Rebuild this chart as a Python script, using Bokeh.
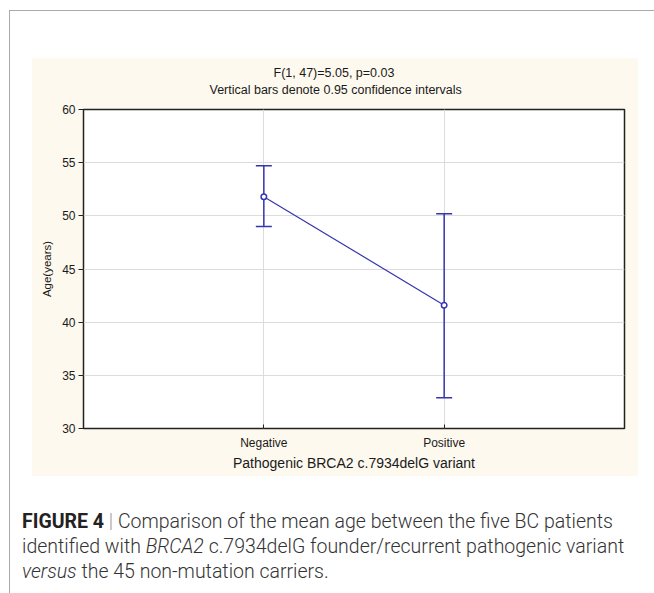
from bokeh.plotting import figure
from bokeh.models import (ColumnDataSource, Range1d, FixedTicker, Whisker, TeeHead,
                          Title, Div, Spacer)
from bokeh.layouts import column, row
from bokeh.embed import file_html
from bokeh.resources import INLINE

# ---- data ----
categories = ["Negative", "Positive"]
mean_age = [51.8, 41.6]
ci_lower = [49.0, 32.9]
ci_upper = [54.7, 50.2]
y_ticks = [30, 35, 40, 45, 50, 55, 60]
title_line1 = "F(1, 47)=5.05, p=0.03"
title_line2 = "Vertical bars denote 0.95 confidence intervals"
x_title = "Pathogenic BRCA2 c.7934delG variant"
y_title = "Age(years)"

positions = list(range(1, len(categories) + 1))
BLUE = "#3535B0"
BEIGE = "#FDF9EE"
TXT = "#1a1a1a"
FONT = "Liberation Sans"

src = ColumnDataSource(dict(x=positions, mean=mean_age, lower=ci_lower, upper=ci_upper))

p = figure(width=607, height=419, output_backend="svg", toolbar_location=None,
           x_range=Range1d(0, len(categories) + 1), y_range=Range1d(y_ticks[0], y_ticks[-1]),
           min_border_left=52, min_border_right=14, min_border_top=52, min_border_bottom=48)
p.background_fill_color = "white"
p.border_fill_color = BEIGE
p.outline_line_color = "#222222"
p.outline_line_width = 1.5

# titles: centred on the whole panel (left-aligned with offsets from the frame edge)
p.title = Title(text=title_line1, align="left", offset=190, standoff=-24,
                text_font=FONT, text_font_size="12.5px", text_font_style="normal",
                text_color=TXT)
p.add_layout(Title(text=title_line2, align="left", offset=126, standoff=26,
                   text_font=FONT, text_font_size="12.5px", text_font_style="normal",
                   text_color=TXT), "above")

# axes
p.xaxis.ticker = FixedTicker(ticks=positions)
p.xaxis.major_label_overrides = {pos: c for pos, c in zip(positions, categories)}
p.xaxis.major_tick_in = 4
p.xaxis.major_tick_out = 0
p.xaxis.minor_tick_line_color = None
p.xaxis.axis_line_color = None
p.xaxis.major_label_standoff = 7
p.xaxis.major_label_text_font = FONT
p.xaxis.major_label_text_font_size = "12px"
p.xaxis.major_label_text_color = TXT
p.xaxis.major_tick_line_color = "#222222"
p.xaxis.axis_label = x_title
p.xaxis.axis_label_text_font = FONT
p.xaxis.axis_label_text_font_size = "14px"
p.xaxis.axis_label_text_font_style = "normal"
p.xaxis.axis_label_text_color = TXT
p.xaxis.axis_label_standoff = 2

p.yaxis.ticker = FixedTicker(ticks=y_ticks)
p.yaxis.major_tick_in = 0
p.yaxis.major_tick_out = 5
p.yaxis.minor_tick_line_color = None
p.yaxis.axis_line_color = None
p.yaxis.major_label_standoff = 3
p.yaxis.major_label_text_font = FONT
p.yaxis.major_label_text_font_size = "12px"
p.yaxis.major_label_text_color = TXT
p.yaxis.major_tick_line_color = "#222222"
p.yaxis.axis_label = y_title
p.yaxis.axis_label_text_font = FONT
p.yaxis.axis_label_text_font_size = "11.5px"
p.yaxis.axis_label_text_font_style = "normal"
p.yaxis.axis_label_text_color = TXT
p.yaxis.axis_label_standoff = 6

# grids
p.xgrid.ticker = FixedTicker(ticks=positions)
p.xgrid.grid_line_color = "#dcdcdc"
p.ygrid.ticker = FixedTicker(ticks=y_ticks)
p.ygrid.grid_line_color = "#dcdcdc"

# data marks
p.line("x", "mean", source=src, line_color=BLUE, line_width=1.2)
w = Whisker(base="x", upper="upper", lower="lower", source=src,
            line_color=BLUE, line_width=1.5,
            upper_head=TeeHead(size=16, line_color=BLUE, line_width=1.5),
            lower_head=TeeHead(size=16, line_color=BLUE, line_width=1.5))
p.add_layout(w)
p.scatter("x", "mean", source=src, marker="circle", size=5.5, fill_color="white",
          line_color=BLUE, line_width=1.5)

caption = Div(width=637, height=75, text=(
    '<div style="font-family:Roboto, \'Liberation Sans\', sans-serif; font-weight:300; '
    'font-size:19.5px; line-height:25px; color:#333; white-space:nowrap;">'
    '<span style="font-weight:700; color:#222;">FIGURE 4</span> '
    '<span style="color:#999;">|</span> Comparison of the mean age between the five BC patients<br>'
    'identified with <i>BRCA2</i> c.7934delG founder/recurrent pathogenic variant<br>'
    '<i>versus</i> the 45 non-mutation carriers.</div>'))

layout = column(
    Spacer(width=644, height=46),
    row(Spacer(width=21, height=419), p),
    Spacer(width=644, height=28),
    row(Spacer(width=7, height=75), caption),
    Spacer(width=644, height=12),
    styles={"border-top": "1px solid #aaaaaa", "border-left": "1px solid #aaaaaa",
            "margin-top": "10px", "margin-left": "9px"},
)

open("out.html", "w").write(file_html(layout, INLINE))
